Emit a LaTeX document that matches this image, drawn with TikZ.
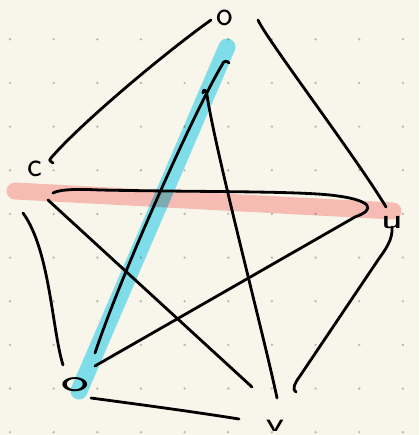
\documentclass[tikz,border=0pt]{standalone}
\usetikzlibrary{calc}
\definecolor{paper}{RGB}{248,246,235}
\definecolor{dotgray}{RGB}{185,185,178}
\definecolor{markblue}{RGB}{130,230,252}
\definecolor{markpink}{RGB}{253,195,195}
\tikzset{
  vertex/.style = {inner sep=0pt, font=\fontsize{20}{20}\selectfont\sffamily},
  edge/.style = {black, line width=1.6pt, line cap=round, line join=round},
  marker/.style = {line width=0.34cm, line cap=round}
}

\begin{document}
\begin{tikzpicture}[x=0.02cm,y=-0.02cm]
  % paper
  \fill[paper] (0,0) rectangle (419,435);
  \useasboundingbox (0,0) rectangle (419,435);
  \foreach \i in {0,...,9}
    \foreach \j in {0,...,9}
      \fill[dotgray] ({10+43.65*\i},{39.3+43.65*\j}) circle (1.3);
  %
  \node[vertex] (T) at (225,18) {o};
  \node[vertex] (C) at (35,169) {c};
  \node[vertex] (U) at (392,223) {\scalebox{1.3}[0.8]{u}};
  \node[vertex] (O) at (75,385) {\scalebox{1.7}[0.9]{o}};
  \node[vertex] (V) at (275,426) {\scalebox{1.2}[0.75]{v}};
  % highlights
  \begin{scope}[blend mode=multiply]
    \draw[marker,markblue] ($(T)+(2,29)$) -- ($(O)+(4,6)$);
    \draw[marker,markpink] ($(C)+(-20,22)$) -- ($(U)+(1,-12)$);
  \end{scope}
  % edges
  \draw[edge] ($(T)+(-14,2)$) .. controls +(-45,32) and +(30,-35) .. ($(C)+(16,-11)$)
    .. controls +(-3,3) and +(-2,-2) .. ($(C)+(18,-6)$);
  \draw[edge] ($(T)+(33,2)$) .. controls +(9,20) and +(-30,-50) .. ($(U)+(-6,-16)$);
  \draw[edge] ($(T)+(4,45)$) .. controls +(-2,-3) and +(1,-4) .. (222,65)
    .. controls (195,110) and (122,272) .. ($(O)+(20,-32)$);
  \draw[edge] ($(T)+(-22,75)$) .. controls +(0,-5) and +(0,-5) .. (207,95)
    .. controls (215,150) and (265,340) .. ($(V)+(2,-28)$);
  \draw[edge] ($(C)+(18,24)$) .. controls (60,189) and (80,189) .. (100,190)
    .. controls (200,192) and (290,191) .. (330,195)
    .. controls (375,200) and (375,210) .. (355,217) -- ($(O)+(20,-19)$);
  \draw[edge] ($(C)+(13,31)$) -- ($(V)+(-23,-39)$);
  \draw[edge] ($(C)+(-12,44)$) .. controls (50,250) and (52,330) .. ($(O)+(-12,-20)$);
  \draw[edge] ($(U)+(0,4)$) .. controls (393,240) and (385,250) .. (378,260) -- (300,376)
    .. controls (294,384) and (292,390) .. ($(V)+(21,-34)$);
  \draw[edge] ($(O)+(16,13)$) .. controls +(30,4) and +(-50,-8) .. ($(V)+(-36,-7)$);
\end{tikzpicture}
\end{document}
